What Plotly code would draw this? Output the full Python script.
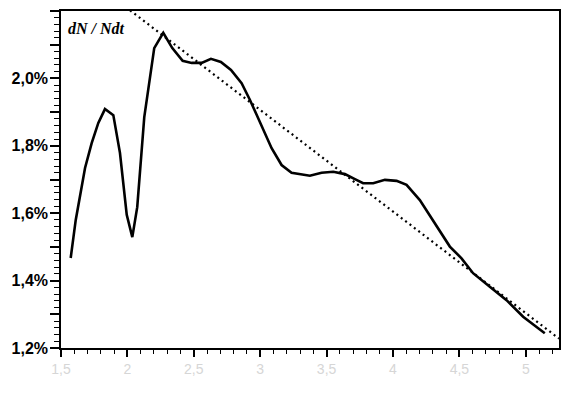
import plotly.graph_objects as go

# Growth-rate curve (x in axis units, y in %)
curve_x = [1.573, 1.611, 1.681, 1.731, 1.781, 1.831, 1.894, 1.944, 1.995, 2.037,
           2.074, 2.127, 2.202, 2.270, 2.338, 2.416, 2.484, 2.559, 2.629, 2.704,
           2.780, 2.860, 2.923, 3.011, 3.086, 3.161, 3.236, 3.374, 3.462, 3.550,
           3.638, 3.713, 3.775, 3.851, 3.939, 4.027, 4.102, 4.202, 4.315, 4.428,
           4.516, 4.603, 4.729, 4.855, 4.980, 5.143]
curve_y = [1.467, 1.580, 1.734, 1.808, 1.868, 1.909, 1.891, 1.779, 1.595, 1.529,
           1.618, 1.885, 2.090, 2.135, 2.090, 2.052, 2.046, 2.046, 2.058, 2.049,
           2.025, 1.986, 1.936, 1.857, 1.793, 1.743, 1.720, 1.711, 1.720, 1.723,
           1.716, 1.701, 1.689, 1.689, 1.699, 1.696, 1.684, 1.639, 1.570, 1.501,
           1.466, 1.422, 1.382, 1.342, 1.293, 1.244]

# Dotted trend line endpoints
trend_x = [2.02, 5.25]
trend_y = [2.202, 1.228]

# Tick labels
y_tickvals = [1.2, 1.3, 1.4, 1.5, 1.6, 1.7, 1.8, 1.9, 2.0, 2.1, 2.2]
y_ticktext = ["1,2%", "", "1,4%", "", "1,6%", "", "1,8%", "", "2,0%", "", ""]
x_tickvals = [1.5, 2.0, 2.5, 3.0, 3.5, 4.0, 4.5, 5.0]
x_ticktext = ["1,5", "2", "2,5", "3", "3,5", "4", "4,5", "5"]

fig = go.Figure()
fig.add_trace(go.Scatter(x=trend_x, y=trend_y, mode="lines",
                         line=dict(color="black", width=2.2, dash="2px,3.5px"),
                         hoverinfo="skip", showlegend=False))
fig.add_trace(go.Scatter(x=curve_x, y=curve_y, mode="lines",
                         line=dict(color="black", width=2.6),
                         showlegend=False))

fig.add_annotation(x=0.01, y=0.98, xref="paper", yref="paper",
                   xanchor="left", yanchor="top", showarrow=False,
                   text="<b><i>dN / Ndt</i></b>",
                   font=dict(family="Liberation Serif", size=16, color="black"))

fig.update_layout(
    width=562, height=385,
    margin=dict(l=53, r=11, t=3, b=45),
    paper_bgcolor="white", plot_bgcolor="white",
    xaxis=dict(range=[1.5, 5.25], tickvals=x_tickvals, ticktext=x_ticktext,
               automargin=False,
               showgrid=False, zeroline=False, showline=True, linecolor="black",
               linewidth=1.5, mirror=True, ticks="outside", ticklen=7,
               tickwidth=1.5, tickcolor="black",
               tickfont=dict(family="Liberation Sans", size=14, color="#d6d6d6"),
               minor=dict(dtick=0.1, tick0=1.5, ticks="outside", ticklen=4,
                          tickwidth=1.2, tickcolor="black", showgrid=False)),
    yaxis=dict(range=[1.2, 2.2], tickvals=y_tickvals, ticktext=y_ticktext,
               automargin=False,
               showgrid=False, zeroline=False, showline=True, linecolor="black",
               linewidth=1.5, mirror=True, ticks="outside", ticklen=9,
               tickwidth=1.5, tickcolor="black", ticklabelstandoff=-1,
               tickfont=dict(family="Liberation Sans", size=16, color="black",
                             weight="bold"),
               minor=dict(dtick=0.02, tick0=1.2, ticks="outside", ticklen=5,
                          tickwidth=1.2, tickcolor="black", showgrid=False)),
)

fig.write_html("out.html")
